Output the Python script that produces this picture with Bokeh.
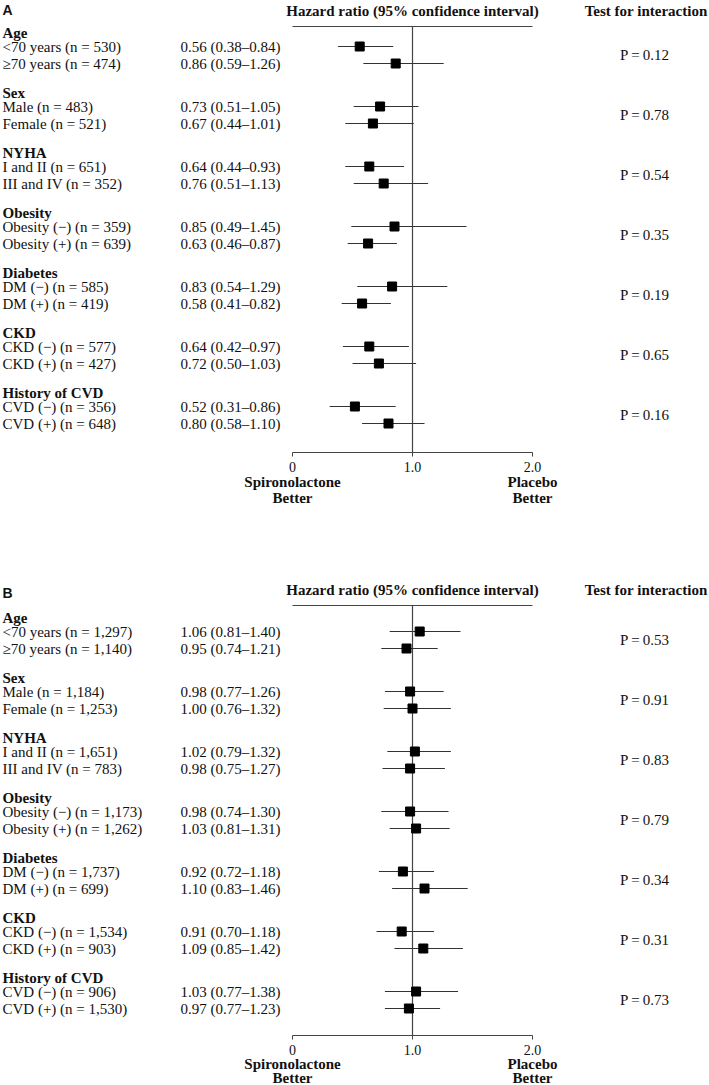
from bokeh.plotting import figure
from bokeh.models import Range1d
from bokeh.core.properties import value
from bokeh.embed import file_html
from bokeh.resources import INLINE

# ---------------- data ----------------
groups = ["Age", "Sex", "NYHA", "Obesity", "Diabetes", "CKD", "History of CVD"]

labels_a = ["<70 years (n = 530)", "\u226570 years (n = 474)",
            "Male (n = 483)", "Female (n = 521)",
            "I and II (n = 651)", "III and IV (n = 352)",
            "Obesity (\u2212) (n = 359)", "Obesity (+) (n = 639)",
            "DM (\u2212) (n = 585)", "DM (+) (n = 419)",
            "CKD (\u2212) (n = 577)", "CKD (+) (n = 427)",
            "CVD (\u2212) (n = 356)", "CVD (+) (n = 648)"]
hr_a = [0.56, 0.86, 0.73, 0.67, 0.64, 0.76, 0.85, 0.63, 0.83, 0.58, 0.64, 0.72, 0.52, 0.80]
lo_a = [0.38, 0.59, 0.51, 0.44, 0.44, 0.51, 0.49, 0.46, 0.54, 0.41, 0.42, 0.50, 0.31, 0.58]
hi_a = [0.84, 1.26, 1.05, 1.01, 0.93, 1.13, 1.45, 0.87, 1.29, 0.82, 0.97, 1.03, 0.86, 1.10]
p_a = ["0.12", "0.78", "0.54", "0.35", "0.19", "0.65", "0.16"]

labels_b = ["<70 years (n = 1,297)", "\u226570 years (n = 1,140)",
            "Male (n = 1,184)", "Female (n = 1,253)",
            "I and II (n = 1,651)", "III and IV (n = 783)",
            "Obesity (\u2212) (n = 1,173)", "Obesity (+) (n = 1,262)",
            "DM (\u2212) (n = 1,737)", "DM (+) (n = 699)",
            "CKD (\u2212) (n = 1,534)", "CKD (+) (n = 903)",
            "CVD (\u2212) (n = 906)", "CVD (+) (n = 1,530)"]
hr_b = [1.06, 0.95, 0.98, 1.00, 1.02, 0.98, 0.98, 1.03, 0.92, 1.10, 0.91, 1.09, 1.03, 0.97]
lo_b = [0.81, 0.74, 0.77, 0.76, 0.79, 0.75, 0.74, 0.81, 0.72, 0.83, 0.70, 0.85, 0.77, 0.77]
hi_b = [1.40, 1.21, 1.26, 1.32, 1.32, 1.27, 1.30, 1.31, 1.18, 1.46, 1.18, 1.42, 1.38, 1.23]
p_b = ["0.53", "0.91", "0.83", "0.79", "0.34", "0.31", "0.73"]

tick_values = [0, 1.0, 2.0]
tick_labels = ["0", "1.0", "2.0"]

# ---------------- layout ----------------
W, H = 709, 1085
X0 = 292    # frame px of HR = 0
PX = 120    # px per HR unit

SERIF = value("Liberation Serif")
SANS = value("Liberation Sans")
FS = "15px"
INK = "#111111"
LINE = "#444444"

p = figure(width=W, height=H, output_backend="svg", toolbar_location=None,
           x_range=Range1d(-X0 / PX, (W - X0) / PX), y_range=Range1d(H, 0),
           x_axis_location=None, y_axis_location=None, min_border=0,
           outline_line_color=None, background_fill_color="white",
           border_fill_color="white")
p.grid.visible = False


def px2v(page_x):
    return (page_x - X0) / PX


def txt(xs, ys, texts, bold=False, align="left", font=SERIF, size=FS):
    p.text(x=xs, y=ys, text=texts, text_font=font, text_font_size=size,
           text_font_style="bold" if bold else "normal", text_align=align,
           text_baseline="middle", text_color=INK)


X_LAB = px2v(2)
X_HR = px2v(180)
X_P = px2v(644)
X_TEST = px2v(707)

panels = [
    dict(letter="A", labels=labels_a, hr=hr_a, lo=lo_a, hi=hi_a, pv=p_a,
         letter_y=9, head_y=10, top=26, first=46, axis=452, b1=29, b2=45),
    dict(letter="B", labels=labels_b, hr=hr_b, lo=lo_b, hi=hi_b, pv=p_b,
         letter_y=592, head_y=589, top=605, first=631, axis=1035, b1=28, b2=42),
]
G_STEP = 60
R_STEP = 17

for pan in panels:
    n = len(pan["hr"])
    ys = [pan["first"] + (i // 2) * G_STEP + (i % 2) * R_STEP for i in range(n)]
    gy = [pan["first"] + g * G_STEP - 14 for g in range(len(groups))]
    py = [pan["first"] + g * G_STEP + R_STEP / 2 for g in range(len(groups))]

    # panel letter + headers
    txt([X_LAB], [pan["letter_y"]], [pan["letter"]], bold=True, font=SANS, size="14px")
    txt([1.0], [pan["head_y"]], ["Hazard ratio (95% confidence interval)"], bold=True, align="center")
    txt([X_TEST], [pan["head_y"]], ["Test for interaction"], bold=True, align="right")

    # top rule and reference line
    p.segment(x0=[tick_values[0]], x1=[tick_values[-1]], y0=[pan["top"]], y1=[pan["top"]],
              line_color=LINE, line_width=1)
    p.segment(x0=[1.0], x1=[1.0], y0=[pan["top"]], y1=[pan["axis"]],
              line_color=LINE, line_width=1.2)

    # text columns
    txt([X_LAB] * len(groups), gy, groups, bold=True)
    txt([X_LAB] * n, ys, pan["labels"])
    hr_txt = ["%.2f (%.2f\u2013%.2f)" % (h, l, u) for h, l, u in zip(pan["hr"], pan["lo"], pan["hi"])]
    txt([X_HR] * n, ys, hr_txt)
    txt([X_P] * len(groups), py, ["P\u2009=\u2009" + v for v in pan["pv"]], align="center")

    # whiskers and markers
    p.segment(x0=pan["lo"], x1=pan["hi"], y0=ys, y1=ys, line_color="#333333", line_width=1)
    p.scatter(x=pan["hr"], y=ys, marker="square", size=9, fill_color="black", line_color="black")

    # axis
    ax = pan["axis"]
    p.segment(x0=[tick_values[0]], x1=[tick_values[-1]], y0=[ax], y1=[ax],
              line_color=LINE, line_width=1)
    p.segment(x0=tick_values, x1=tick_values, y0=[ax] * 3, y1=[ax + 4] * 3,
              line_color=LINE, line_width=1)
    txt(tick_values, [ax + 14] * 3, tick_labels, align="center", size="14px")
    txt([tick_values[0], tick_values[-1]], [ax + pan["b1"]] * 2, ["Spironolactone", "Placebo"],
        bold=True, align="center")
    txt([tick_values[0], tick_values[-1]], [ax + pan["b2"]] * 2, ["Better", "Better"],
        bold=True, align="center")

open("out.html", "w").write(file_html(p, INLINE))
